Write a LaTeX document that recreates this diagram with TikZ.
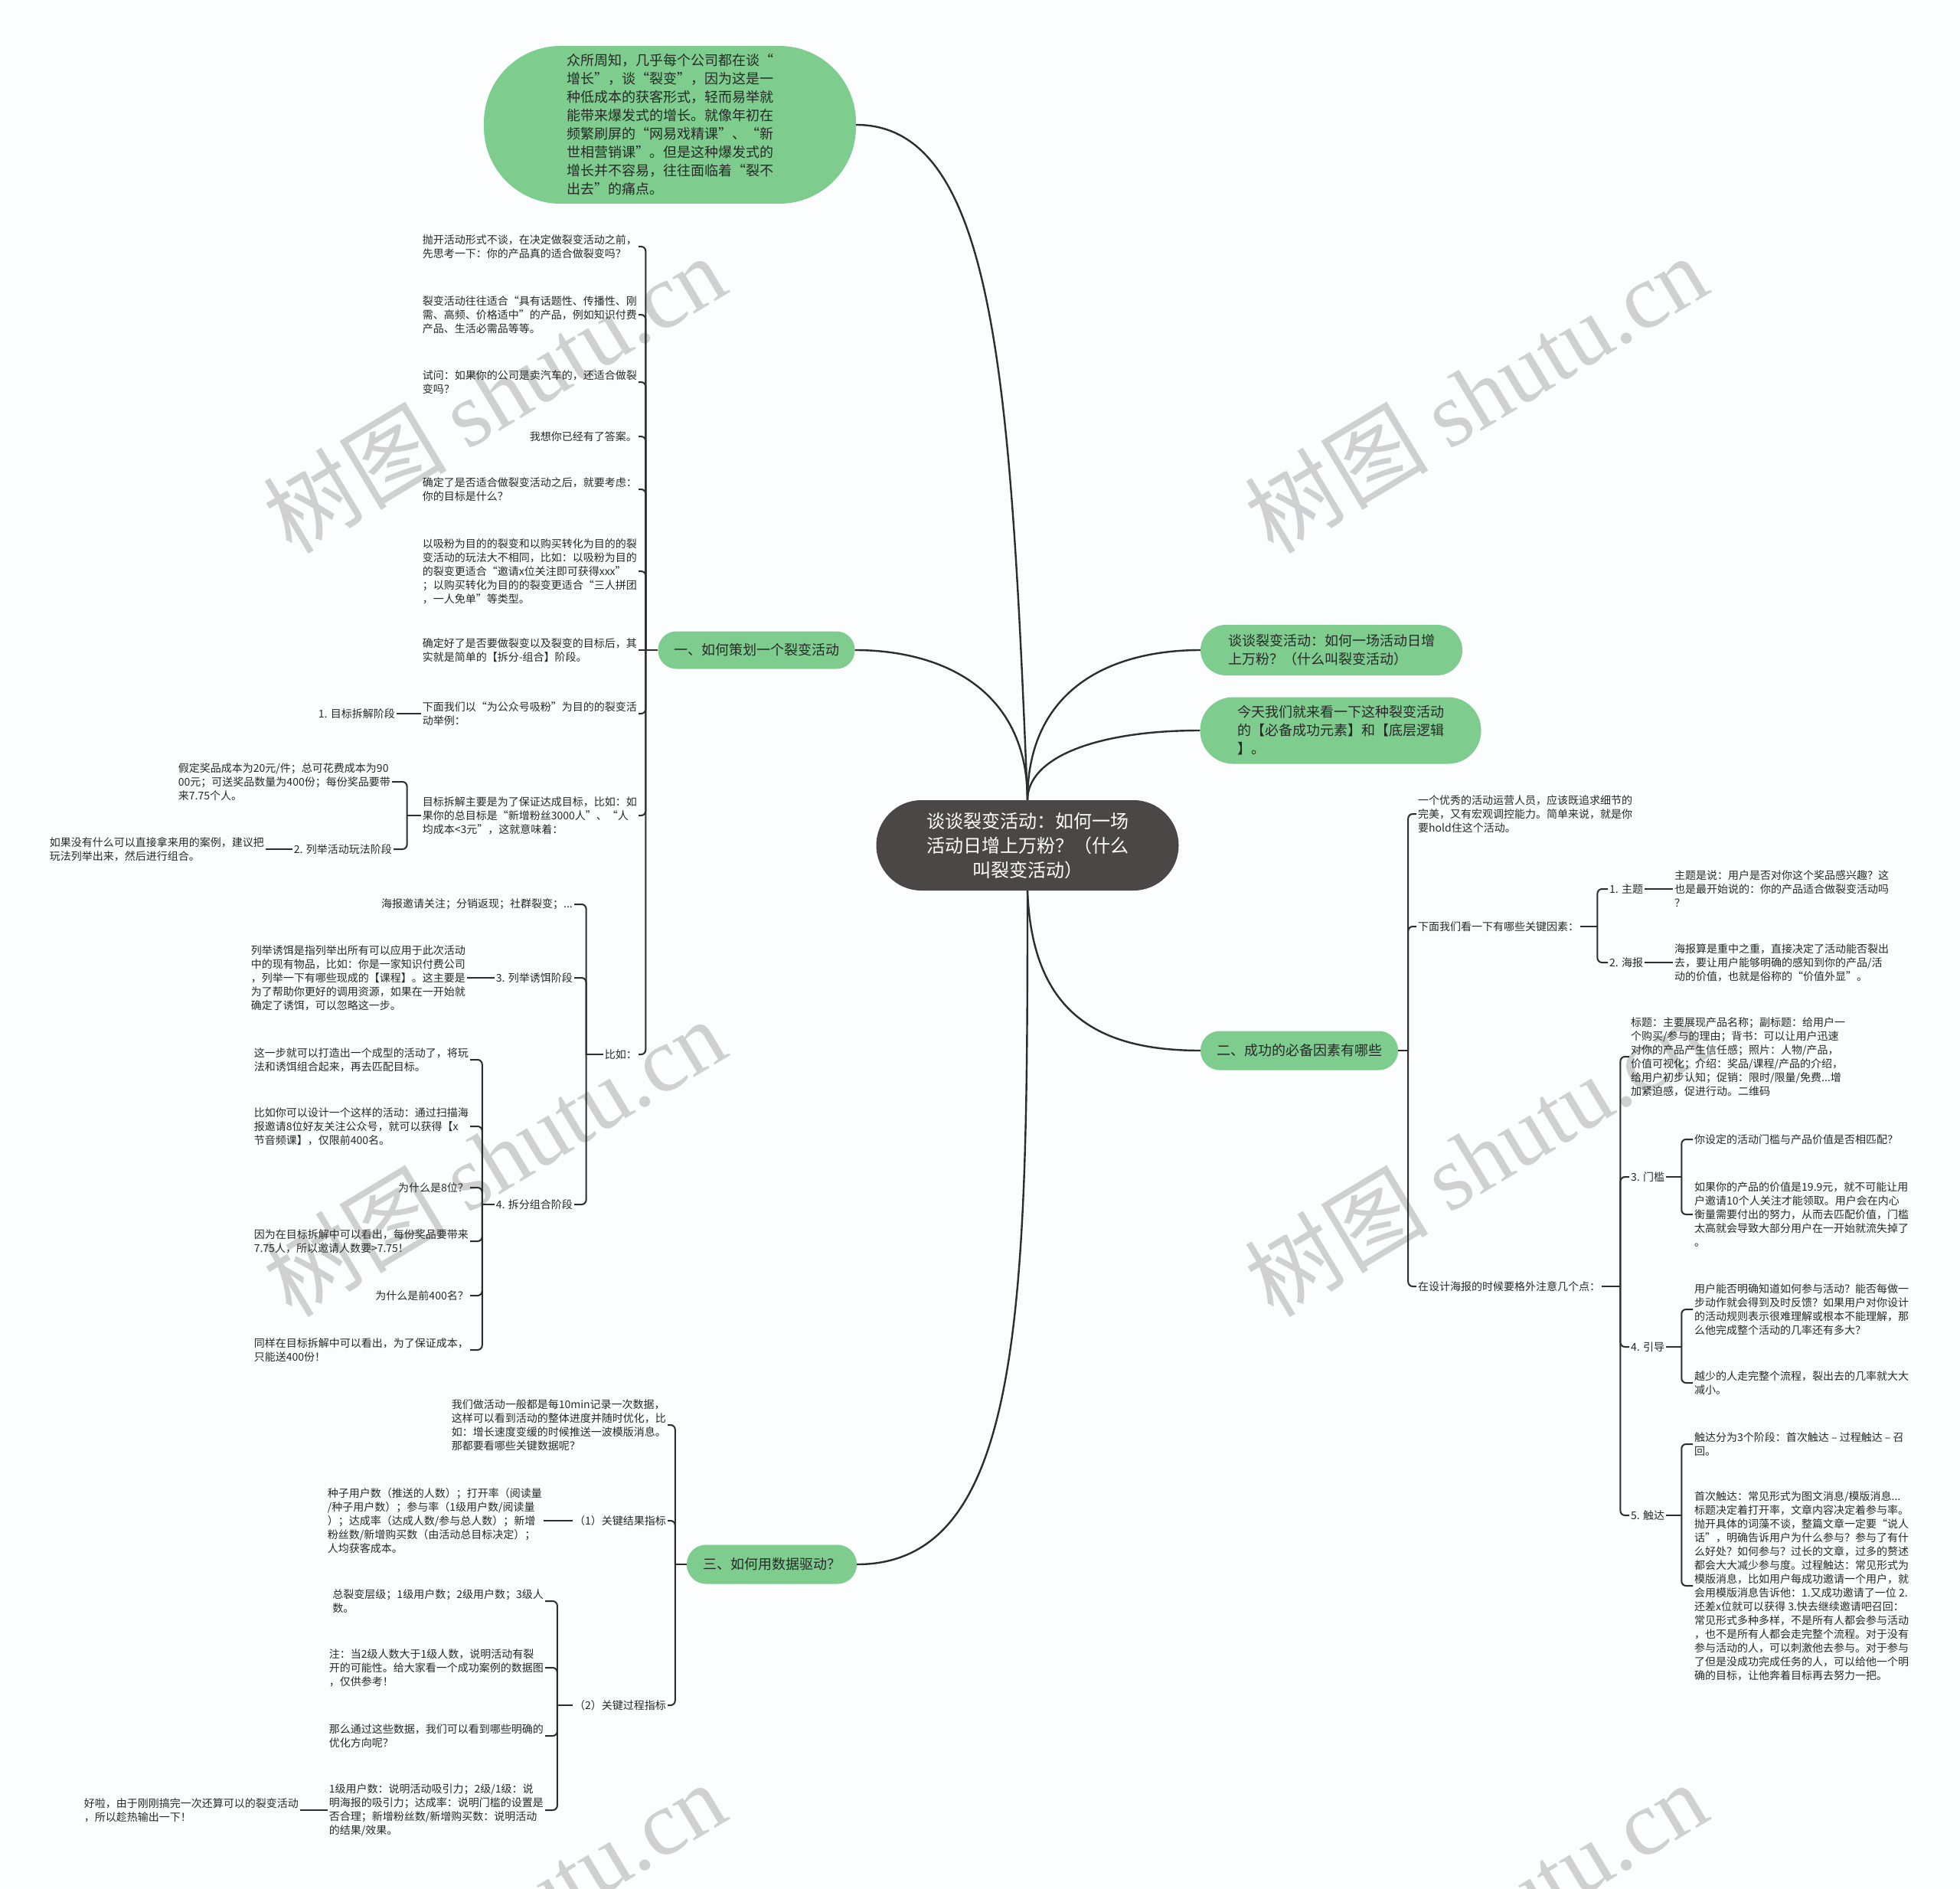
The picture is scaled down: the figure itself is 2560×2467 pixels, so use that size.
\documentclass[tikz,border=0pt]{standalone}
\usepackage{fontspec}
\setmainfont{Noto Sans CJK SC}
\newfontfamily\wmserif{Liberation Serif}
\usetikzlibrary{calc}
\definecolor{bg}{RGB}{251,253,254}
\definecolor{gfill}{RGB}{127,204,143}
\definecolor{dfill}{RGB}{75,71,71}
\definecolor{ln}{RGB}{45,45,45}
\definecolor{txt}{RGB}{40,40,40}
\definecolor{wm}{RGB}{208,208,208}
\newcommand\brL[3]{%
  \draw[conn] (#1.west) -- ++(#2,0) coordinate (tmp);
  \foreach \ch in {#3}{\draw[conn,rounded corners=6] (tmp) |- (\ch.east);}%
}
\newcommand\brR[3]{%
  \draw[conn] (#1.east) -- ++(#2,0) coordinate (tmp);
  \foreach \ch in {#3}{\draw[conn,rounded corners=6] (tmp) |- (\ch.west);}%
}
\begin{document}
\begin{tikzpicture}[x=1pt,y=-1pt,
  leaf/.style={font=\fontsize{14}{18}\selectfont, align=left, inner sep=2pt, text=txt},
  lf/.style={leaf, anchor=east},
  rt/.style={leaf, anchor=west},
  conn/.style={draw=ln, line width=2pt},
  mainconn/.style={draw=ln, line width=2.4pt},
  gnode/.style={fill=gfill, rectangle, font=\fontsize{18}{24}\selectfont, text=txt, align=left, inner sep=0pt},
  wmark/.style={rotate=31, text=wm, font=\fontsize{120}{120}\selectfont}
]
\path[use as bounding box, fill=bg] (0,0) rectangle (2560,2467);

% watermarks
\foreach \wx/\wy [count=\i] in {645/514, 1927/514, 645/1511, 1927/1511, 645/2508, 1927/2508}
  \node[wmark] (wm\i) at (\wx,\wy) {树图 {\wmserif shutu.cn}};

% central and main nodes
\node[fill=dfill, rectangle, rounded corners=59, minimum width=395, minimum height=118,
  text=white, font=\fontsize{24}{32}\selectfont, align=center, inner sep=0pt] (C) at (1342,1104)
  {谈谈裂变活动：如何一场\\活动日增上万粉？（什么\\叫裂变活动）};

\node[gnode, rounded corners=100, minimum width=486, minimum height=206] (T) at (875,163)
  {众所周知，几乎每个公司都在谈“\\增长”，谈“裂变”，因为这是一\\种低成本的获客形式，轻而易举就\\能带来爆发式的增长。就像年初在\\频繁刷屏的“网易戏精课”、“新\\世相营销课”。但是这种爆发式的\\增长并不容易，往往面临着“裂不\\出去”的痛点。};
\node[gnode, rounded corners=33, minimum width=342, minimum height=66] (R1) at (1739,849)
  {谈谈裂变活动：如何一场活动日增\\上万粉？（什么叫裂变活动）};
\node[gnode, rounded corners=43, minimum width=367, minimum height=87] (R2) at (1751,954)
  {今天我们就来看一下这种裂变活动\\的【必备成功元素】和【底层逻辑\\】。};
\node[gnode, rounded corners=24, minimum width=257, minimum height=49] (B1) at (988,849)
  {一、如何策划一个裂变活动};
\node[gnode, rounded corners=25, minimum width=258, minimum height=51] (B2) at (1697,1372)
  {二、成功的必备因素有哪些};
\node[gnode, rounded corners=25, minimum width=222, minimum height=51] (B3) at (1008,2043)
  {三、如何用数据驱动？};

% main connectors
\draw[mainconn] (C.north) .. controls (1320,500) and (1300,163) .. (T.east);
\draw[mainconn] (C.north) .. controls (1342,900) and (1230,849) .. (B1.east);
\draw[mainconn] (C.north) .. controls (1342,900) and (1450,849) .. (R1.west);
\draw[mainconn] (C.north) .. controls (1342,990) and (1430,954) .. (R2.west);
\draw[mainconn] (C.south) .. controls (1348,1320) and (1430,1372) .. (B2.west);
\draw[mainconn] (C.south) .. controls (1342,1700) and (1338,2043) .. (B3.east);

% ---------- Branch 1 ----------
\node[lf] (c1) at (834,322) {抛开活动形式不谈，在决定做裂变活动之前，\\先思考一下：你的产品真的适合做裂变吗？};
\node[lf] (c2) at (834,411) {裂变活动往往适合“具有话题性、传播性、刚\\需、高频、价格适中”的产品，例如知识付费\\产品、生活必需品等等。};
\node[lf] (c3) at (834,499) {试问：如果你的公司是卖汽车的，还适合做裂\\变吗？};
\node[lf] (c4) at (834,570) {我想你已经有了答案。};
\node[lf] (c5) at (834,639) {确定了是否适合做裂变活动之后，就要考虑：\\你的目标是什么？};
\node[lf] (c6) at (834,746) {以吸粉为目的的裂变和以购买转化为目的的裂\\变活动的玩法大不相同，比如：以吸粉为目的\\的裂变更适合“邀请x位关注即可获得xxx”\\；以购买转化为目的的裂变更适合“三人拼团\\，一人免单”等类型。};
\node[lf] (c7) at (834,849) {确定好了是否要做裂变以及裂变的目标后，其\\实就是简单的【拆分-组合】阶段。};
\node[lf] (c8) at (834,932) {下面我们以“为公众号吸粉”为目的的裂变活\\动举例：};
\node[lf] (c9) at (834,1065) {目标拆解主要是为了保证达成目标，比如：如\\果你的总目标是“新增粉丝3000人”、“人\\均成本<3元”，这就意味着：};
\node[lf] (c10) at (834,1377) {比如：};

\node[lf] (n1) at (518,932) {1. 目标拆解阶段};
\node[lf] (c9a) at (512,1021) {假定奖品成本为20元/件；总可花费成本为90\\00元；可送奖品数量为400份；每份奖品要带\\来7.75个人。};
\node[lf] (c9b) at (514,1109) {2. 列举活动玩法阶段};
\node[lf] (c9b1) at (347,1109) {如果没有什么可以直接拿来用的案例，建议把\\玩法列举出来，然后进行组合。};

\node[lf] (d1) at (750,1181) {海报邀请关注；分销返现；社群裂变；...};
\node[lf] (d2) at (750,1277) {3. 列举诱饵阶段};
\node[lf] (d3) at (750,1573) {4. 拆分组合阶段};
\node[lf] (d2a) at (610,1277) {列举诱饵是指列举出所有可以应用于此次活动\\中的现有物品，比如：你是一家知识付费公司\\，列举一下有哪些现成的【课程】。这主要是\\为了帮助你更好的调用资源，如果在一开始就\\确定了诱饵，可以忽略这一步。};
\node[lf] (e1) at (614,1384) {这一步就可以打造出一个成型的活动了，将玩\\法和诱饵组合起来，再去匹配目标。};
\node[lf] (e2) at (614,1471) {比如你可以设计一个这样的活动：通过扫描海\\报邀请8位好友关注公众号，就可以获得【x\\节音频课】，仅限前400名。};
\node[lf] (e3) at (614,1551) {为什么是8位？};
\node[lf] (e4) at (614,1621) {因为在目标拆解中可以看出，每份奖品要带来\\7.75人，所以邀请人数要>7.75！};
\node[lf] (e5) at (614,1692) {为什么是前400名？};
\node[lf] (e6) at (614,1763) {同样在目标拆解中可以看出，为了保证成本，\\只能送400份！};

\brL{B1}{-16}{c1,c2,c3,c4,c5,c6,c8,c9,c10}
\draw[conn] (tmp) -- (c7.east);
\draw[conn] (c8.west) -- (n1.east);
\brL{c9}{-18}{c9a,c9b}
\draw[conn] (c9b.west) -- (c9b1.east);
\brL{c10}{-22}{d1,d2,d3}
\draw[conn] (d2.west) -- (d2a.east);
\brL{d3}{-16}{e1,e2,e3,e4,e5,e6}

% ---------- Branch 3 ----------
\node[lf] (f1) at (872,1861) {我们做活动一般都是每10min记录一次数据，\\这样可以看到活动的整体进度并随时优化，比\\如：增长速度变缓的时候推送一波模版消息。\\那都要看哪些关键数据呢？};
\node[lf] (f2) at (872,1986) {（1）关键结果指标};
\node[lf] (f3) at (872,2227) {（2）关键过程指标};
\node[lf] (f2a) at (710,1986) {种子用户数（推送的人数）；打开率（阅读量\\/种子用户数）；参与率（1级用户数/阅读量\\）；达成率（达成人数/参与总人数）；新增\\粉丝数/新增购买数（由活动总目标决定）；\\人均获客成本。};
\node[lf] (g1) at (712,2091) {总裂变层级；1级用户数；2级用户数；3级人\\数。};
\node[lf] (g2) at (712,2178) {注：当2级人数大于1级人数，说明活动有裂\\开的可能性。给大家看一个成功案例的数据图\\，仅供参考！};
\node[lf] (g3) at (712,2267) {那么通过这些数据，我们可以看到哪些明确的\\优化方向呢？};
\node[lf] (g4) at (712,2364) {1级用户数：说明活动吸引力；2级/1级：说\\明海报的吸引力；达成率：说明门槛的设置是\\否合理；新增粉丝数/新增购买数：说明活动\\的结果/效果。};
\node[lf] (g4a) at (392,2364) {好啦，由于刚刚搞完一次还算可以的裂变活动\\，所以趁热输出一下！};

\brL{B3}{-15}{f1,f2,f3}
\draw[conn] (f2.west) -- (f2a.east);
\brL{f3}{-20}{g1,g2,g3,g4}
\draw[conn] (g4.west) -- (g4a.east);

% ---------- Branch 2 ----------
\node[rt] (h1) at (1850,1063) {一个优秀的活动运营人员，应该既追求细节的\\完美，又有宏观调控能力。简单来说，就是你\\要hold住这个活动。};
\node[rt] (h2) at (1850,1210) {下面我们看一下有哪些关键因素：};
\node[rt] (h3) at (1850,1680) {在设计海报的时候要格外注意几个点：};
\node[rt] (h2a) at (2100,1161) {1. 主题};
\node[rt] (h2b) at (2100,1257) {2. 海报};
\node[rt] (h2a1) at (2185,1161) {主题是说：用户是否对你这个奖品感兴趣？这\\也是最开始说的：你的产品适合做裂变活动吗\\？};
\node[rt] (h2b1) at (2185,1257) {海报算是重中之重，直接决定了活动能否裂出\\去，要让用户能够明确的感知到你的产品/活\\动的价值，也就是俗称的“价值外显”。};
\node[rt] (k1) at (2128,1380) {标题：主要展现产品名称；副标题：给用户一\\个购买/参与的理由；背书：可以让用户迅速\\对你的产品产生信任感；照片：人物/产品，\\价值可视化；介绍：奖品/课程/产品的介绍，\\给用户初步认知；促销：限时/限量/免费...增\\加紧迫感，促进行动。二维码};
\node[rt] (k2) at (2128,1537) {3. 门槛};
\node[rt] (k3) at (2128,1759) {4. 引导};
\node[rt] (k4) at (2128,1979) {5. 触达};
\node[rt] (k2a) at (2211,1488) {你设定的活动门槛与产品价值是否相匹配？};
\node[rt] (k2b) at (2211,1586) {如果你的产品的价值是19.9元，就不可能让用\\户邀请10个人关注才能领取。用户会在内心\\衡量需要付出的努力，从而去匹配价值，门槛\\太高就会导致大部分用户在一开始就流失掉了\\。};
\node[rt] (k3a) at (2211,1710) {用户能否明确知道如何参与活动？能否每做一\\步动作就会得到及时反馈？如果用户对你设计\\的活动规则表示很难理解或根本不能理解，那\\么他完成整个活动的几率还有多大？};
\node[rt] (k3b) at (2211,1806) {越少的人走完整个流程，裂出去的几率就大大\\减小。};
\node[rt] (k4a) at (2211,1886) {触达分为3个阶段：首次触达 – 过程触达 – 召\\回。};
\node[rt] (k4b) at (2211,2071) {首次触达：常见形式为图文消息/模版消息...\\标题决定着打开率，文章内容决定着参与率。\\抛开具体的词藻不谈，整篇文章一定要“说人\\话”，明确告诉用户为什么参与？参与了有什\\么好处？如何参与？过长的文章，过多的赘述\\都会大大减少参与度。过程触达：常见形式为\\模版消息，比如用户每成功邀请一个用户，就\\会用模版消息告诉他：1.又成功邀请了一位 2.\\还差x位就可以获得 3.快去继续邀请吧召回：\\常见形式多种多样，不是所有人都会参与活动\\，也不是所有人都会走完整个流程。对于没有\\参与活动的人，可以刺激他去参与。对于参与\\了但是没成功完成任务的人，可以给他一个明\\确的目标，让他奔着目标再去努力一把。};

\brR{B2}{13}{h1,h2,h3}
\brR{h2}{22}{h2a,h2b}
\draw[conn] (h2a.east) -- (h2a1.west);
\draw[conn] (h2b.east) -- (h2b1.west);
\brR{h3}{24}{k1,k2,k3,k4}
\brR{k2}{20}{k2a,k2b}
\brR{k3}{20}{k3a,k3b}
\brR{k4}{20}{k4a,k4b}
\end{tikzpicture}
\end{document}
